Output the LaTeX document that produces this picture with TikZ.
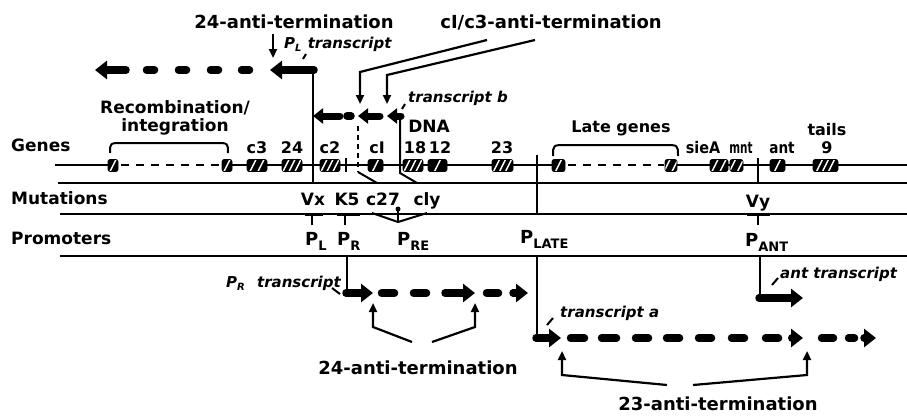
\documentclass[tikz,border=0pt]{standalone}
\usepackage{fontspec}
\usepackage{graphicx}
\setmainfont{DejaVu Sans}
\usetikzlibrary{arrows.meta}
\newcommand\Psub[1]{P\lower5pt\hbox{\fontsize{13}{13}\selectfont #1}}
\newcommand\Pitsub[1]{P\lower3pt\hbox{\fontsize{10}{10}\selectfont #1}}
\begin{document}
\begin{tikzpicture}[x=1pt,y=-1pt,
  lbl/.style={font=\bfseries\fontsize{18}{20}\selectfont, inner sep=0pt},
  rowlbl/.style={font=\bfseries\fontsize{17}{19}\selectfont, inner sep=0pt, anchor=base west},
  glbl/.style={font=\bfseries\fontsize{16}{18}\selectfont, inner sep=0pt, anchor=base},
  mlbl/.style={font=\bfseries\fontsize{17}{19}\selectfont, inner sep=0pt, anchor=base},
  tlbl/.style={font=\bfseries\itshape\fontsize{15}{17}\selectfont, inner sep=0pt, anchor=base west},
  plbl/.style={font=\bfseries\fontsize{18}{20}\selectfont, inner sep=0pt, anchor=base west},
  ln/.style={line width=2pt},
  sepline/.style={line width=1.6pt},
  tseg/.style={line width=7.5pt, line cap=round},
  thd/.style={line width=7.5pt, line cap=round, -{Triangle[length=12pt,width=18pt]}},
  thds/.style={line width=7pt, line cap=round, -{Triangle[length=10pt,width=15pt]}},
  ptr/.style={line width=2.2pt, -{Triangle[length=9pt,width=8pt]}},
  gbox/.style={fill=black, draw=black, line width=0.6pt, rounded corners=2pt, minimum height=12pt, minimum width=#1, inner sep=0pt},
  hatchA/.style={path picture={\draw[white,line width=1.4pt] ([xshift=-3pt]path picture bounding box.south) -- ([xshift=3pt]path picture bounding box.north);}},
  hatchB/.style={path picture={\foreach \a in {-7,1}{\draw[white,line width=1.4pt] ([xshift=\a pt]path picture bounding box.south) -- ([xshift=\a pt + 6pt]path picture bounding box.north);}}},
  hatchC/.style={path picture={\foreach \a in {-9,-3,3}{\draw[white,line width=1.4pt] ([xshift=\a pt]path picture bounding box.south) -- ([xshift=\a pt + 6pt]path picture bounding box.north);}}},
]
\fill[white] (0,0) rectangle (907,415);
\useasboundingbox (0,0) rectangle (907,415);

% ---------- top labels ----------
\node[lbl] (anti24top) at (294,22) {24-anti-termination};
\node[lbl] (anticI) at (551,22) {cI/c3-anti-termination};
\node[tlbl] (PLt) at (284,48) {\Pitsub{L}\hspace{1pt} transcript};
\node[tlbl] (trb) at (408,102) {transcript b};

% ---------- row labels ----------
\node[rowlbl] (genes) at (11,151) {Genes};
\node[rowlbl] (muts) at (11,204) {Mutations};
\node[rowlbl] (proms) at (11,244) {Promoters};

% ---------- separators ----------
\draw[sepline] (58,183) -- (907,183);
\draw[sepline] (60,214) -- (907,214);
\draw[sepline] (60,256) -- (907,256);

% ---------- gene line ----------
\draw[ln] (55,165) -- (108,165);
\draw[ln, dash pattern=on 8pt off 7pt] (121,165) -- (221,165);
\draw[ln] (232,165) -- (552,165);
\draw[ln, dash pattern=on 8pt off 7pt] (568,165) -- (664,165);
\draw[ln] (677,165) -- (907,165);

% braces
\draw[ln] (110,153) .. controls (110,143) .. (122,143) -- (216,143) .. controls (228,143) .. (228,153);
\draw[ln] (553,156) .. controls (553,145) .. (566,145) -- (665,145) .. controls (678,145) .. (678,156);
\node[mlbl] (recomb) at (175,113) {Recombination/};
\node[mlbl] (integ) at (175,131) {integration};
\node[mlbl, font=\bfseries\fontsize{16}{18}\selectfont] (late) at (621,132) {Late genes};
\node[mlbl] (dna) at (429,132) {DNA};
\node[glbl] (tails) at (827,135) {tails};

% gene boxes
\node[gbox=10pt, hatchA] (g-r1) at (113,165.5) {};
\node[gbox=10pt, hatchA] (g-r2) at (227,165.5) {};
\node[gbox=20pt, hatchB] (g-c3) at (257,165.5) {};
\node[gbox=20pt, hatchC] (g-24) at (292,165.5) {};
\node[gbox=20pt, hatchC] (g-c2) at (330,165.5) {};
\node[gbox=15pt, hatchA] (g-cI) at (375.5,165.5) {};
\node[gbox=20pt, hatchC] (g-18) at (413,165.5) {};
\node[gbox=19pt, hatchA] (g-12) at (437.5,165.5) {};
\node[gbox=21pt, hatchC] (g-23) at (502.5,165.5) {};
\node[gbox=13pt, hatchA] (g-l1) at (558.5,165.5) {};
\node[gbox=12pt, hatchB] (g-l2) at (671,165.5) {};
\node[gbox=18pt, hatchB] (g-sie) at (719,165.5) {};
\node[gbox=13pt, hatchB] (g-mnt) at (736.5,165.5) {};
\node[gbox=15pt, hatchA] (g-ant) at (777.5,165.5) {};
\node[gbox=25pt, hatchC] (g-9) at (825.5,165.5) {};

% gene labels
\node[glbl] (l-c3) at (257,153) {c3};
\node[glbl] (l-24) at (292,153) {24};
\node[glbl] (l-c2) at (330,153) {c2};
\node[glbl] (l-cI) at (377,153) {cI};
\node[glbl] (l-18) at (415,153) {18};
\node[glbl] (l-12) at (440,153) {12};
\node[glbl] (l-23) at (502,153) {23};
\node[glbl] (l-sie) at (703,153) {\scalebox{0.9}[1]{sieA}};
\node[glbl] (l-mnt) at (741,153) {\scalebox{0.65}[1]{mnt}};
\node[glbl] (l-ant) at (782,153) {\scalebox{0.85}[1]{ant}};
\node[glbl] (l-9) at (827,153) {9};

% verticals through gene line
\draw[ln] (313,183) -- (313,70);
\draw[ln] (346,158) -- (346,172);
\draw[ln] (537,155) -- (537,214);
\draw[ln] (758,158) -- (758,184);
\draw[ln] (417,183) -- (400,173) -- (400,116);
\draw[ln, dash pattern=on 5pt off 4pt] (358,126) -- (358,172);
\draw[ln] (358,172) -- (377,183);

% ---------- mutations ----------
\node[mlbl] (m-vx) at (313,205) {Vx};
\node[mlbl] (m-k5) at (347,205) {K5};
\node[mlbl] (m-c27) at (383,205) {c27};
\node[mlbl] (m-cly) at (427,205) {cly};
\node[mlbl] (m-vy) at (758,207) {Vy};
\draw[line width=3pt] (305,214) -- (323,214);
\draw[ln] (312,214) -- (312,225);
\draw[line width=3pt] (337,214) -- (360,214);
\draw[ln] (345,214) -- (345,225);
\draw[line width=3pt] (747,214) -- (770,214);
\draw[ln] (758,214) -- (758,225);
\draw[ln] (372,213) -- (398,222) -- (427,213);
\draw[ln] (398,209) -- (398,222);
\fill (398,209) circle (2.5);

% ---------- promoters ----------
\node[plbl] (p-l) at (305,245) {\Psub{L}};
\node[plbl] (p-r) at (337,245) {\Psub{R}};
\node[plbl] (p-re) at (397,245) {\Psub{RE}};
\node[plbl] (p-late) at (520,243) {\Psub{LATE}};
\node[plbl] (p-ant) at (745,246) {\Psub{ANT}};

% ---------- P_L transcript (top, leftward) ----------
\draw[thd] (314,70) -- (270,70);
\foreach \a/\b in {253/238, 222/207, 190/175, 158/143}
  \draw[tseg] (\a-3.5,70) -- (\b+3.5,70);
\draw[thd] (126,70) -- (95,70);
\draw[ptr] (273,34) -- (273,58);
\draw[ln] (303,59) -- (306,54);

% ---------- transcript b ----------
\draw[thds] (401,116) -- (387,116);
\draw[thds] (380,116) -- (358,116);
\draw[tseg] (347,116) -- (351,116);
\draw[thds] (340,116) -- (313,116);
\draw[ptr] (487,40) -- (360,72) -- (360,104);
\draw[ptr] (535,40) -- (387,75) -- (387,104);
\draw[ln] (402,109) -- (405,104);

% ---------- P_R transcript ----------
\node[tlbl] (PRt) at (226,287) {\Pitsub{R}\hspace{7pt} transcript};
\draw[ln] (332,288) -- (340,294);
\draw[ln] (347,256) -- (347,293);
\draw[thd] (346,293) -- (373,293);
\draw[tseg] (381.5,293) -- (394.5,293);
\draw[tseg] (413.5,293) -- (426.5,293);
\draw[thd] (445,293) -- (475,293);
\draw[tseg] (486.5,293) -- (498.5,293);
\draw[thd] (513,293) -- (528,293);
\draw[ptr] (412,342) -- (373,327) -- (373,303);
\draw[ptr] (432,342) -- (475,327) -- (475,303);
\node[lbl] (anti24bot) at (418,368) {24-anti-termination};

% ---------- transcript a ----------
\node[tlbl] (tra) at (560,317) {transcript a};
\draw[ln] (547,325) -- (553,318);
\draw[ln] (537,256) -- (537,338);
\draw[thd] (536,338) -- (561,338);
\foreach \a/\b in {567/588, 598/620, 632/652, 663/683, 695/715, 728/748, 762/782, 818/837, 845/858}
  \draw[tseg] (\a+3.5,338) -- (\b-3.5,338);
\draw[thd] (792,338) -- (803,338);
\draw[thd] (864,338) -- (876,338);
\draw[ptr] (667,385) -- (562,375) -- (562,351);
\draw[ptr] (693,385) -- (807,375) -- (807,351);
\node[lbl] (anti23) at (718,404) {23-anti-termination};

% ---------- ant transcript ----------
\node[tlbl] (antt) at (780,278) {ant transcript};
\draw[ln] (772,285) -- (778,278);
\draw[ln] (760,256) -- (760,298);
\draw[thd] (759,298) -- (803,298);
\end{tikzpicture}
\end{document}
